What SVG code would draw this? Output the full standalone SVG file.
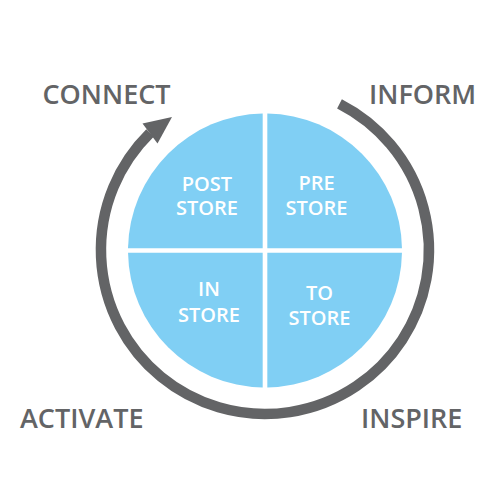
<svg xmlns="http://www.w3.org/2000/svg" width="500" height="500" viewBox="0 0 500 500">
<style>
.q{fill:#80cff4;}
.qt{font-family:"Open Sans","Liberation Sans",sans-serif;font-weight:600;font-size:20px;fill:#ffffff;text-anchor:middle;}
.lb{font-family:"Open Sans","Liberation Sans",sans-serif;font-weight:600;font-size:27px;fill:#636466;}
.ring{fill:none;stroke:#636466;stroke-width:10.5;}
</style>
<rect width="500" height="500" fill="#ffffff"/>
<g id="connectors">
<path class="ring" d="M339.5,103.9 A164,164 0 1 1 150,133"/>
<polygon points="172,117 142.5,123.5 157.5,143.5" fill="#636466"/>
</g>
<g id="post-store">
<path class="q" d="M128.02,248.2 A137,137 0 0 1 262.7,113.52 L262.7,248.2 Z"/>
<text class="qt" x="207" y="191">POST</text>
<text class="qt" x="207" y="215">STORE</text>
</g>
<g id="pre-store">
<path class="q" d="M267.3,113.52 A137,137 0 0 1 401.98,248.2 L267.3,248.2 Z"/>
<text class="qt" x="316.5" y="189.5">PRE</text>
<text class="qt" x="316.5" y="214.5">STORE</text>
</g>
<g id="in-store">
<path class="q" d="M262.7,387.48 A137,137 0 0 1 128.02,252.8 L262.7,252.8 Z"/>
<text class="qt" x="209" y="296">IN</text>
<text class="qt" x="209" y="321.5">STORE</text>
</g>
<g id="to-store">
<path class="q" d="M401.98,252.8 A137,137 0 0 1 267.3,387.48 L267.3,252.8 Z"/>
<text class="qt" x="319.5" y="299.5">TO</text>
<text class="qt" x="319.5" y="325">STORE</text>
</g>
<g id="label-connect"><text class="lb" x="42.5" y="104.3">CONNECT</text></g>
<g id="label-inform"><text class="lb" x="369" y="104.3">INFORM</text></g>
<g id="label-activate"><text class="lb" x="20" y="428.3">ACTIVATE</text></g>
<g id="label-inspire"><text class="lb" x="361" y="428.3">INSPIRE</text></g>
</svg>
